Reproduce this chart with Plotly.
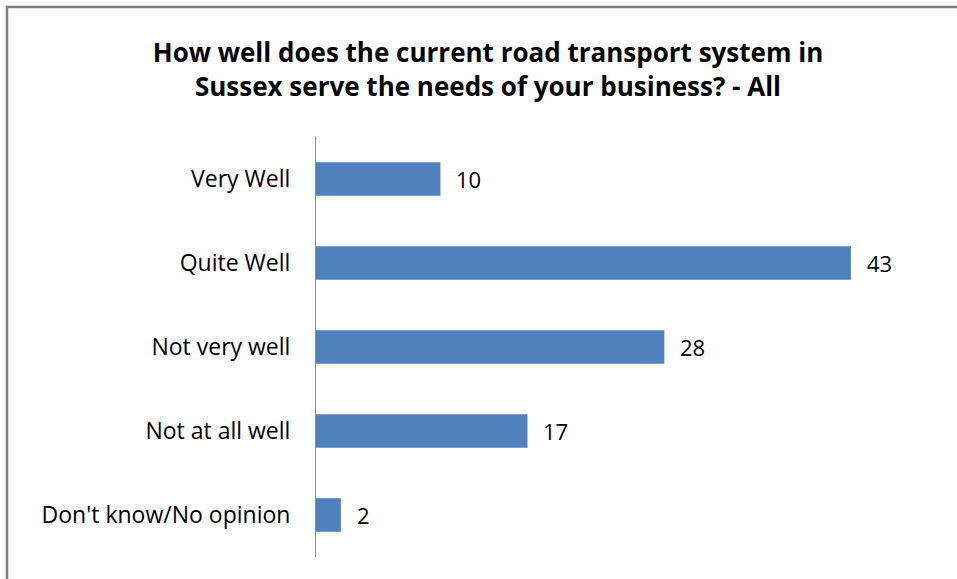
import plotly.graph_objects as go

# Survey responses (percent of all respondents)
categories = ["Very Well", "Quite Well", "Not very well", "Not at all well", "Don't know/No opinion"]
values = [10, 43, 28, 17, 2]

W, H = 957, 579
L, R, T, B = 316, 19, 137, 22
pw = W - L - R
ph = H - T - B

fig = go.Figure(
    go.Bar(
        x=values,
        y=categories,
        orientation="h",
        marker=dict(color="#4f81bd", line=dict(width=0)),
        hoverinfo="x+y",
    )
)

# Value labels just right of each bar end
for cat, v in zip(categories, values):
    fig.add_annotation(
        x=v,
        y=cat,
        xref="x",
        yref="y",
        text=str(v),
        showarrow=False,
        xanchor="left",
        yanchor="middle",
        xshift=14,
        font=dict(family="Open Sans", size=22, color="#000000"),
    )

fig.update_layout(
    width=W,
    height=H,
    margin=dict(l=L, r=R, t=T, b=B),
    plot_bgcolor="white",
    paper_bgcolor="white",
    bargap=0.6,
    showlegend=False,
    title=dict(
        text="<b>How well does the current road transport system in<br>Sussex serve the needs of your business? - All</b>",
        x=488 / W,
        xanchor="center",
        y=1 - 62 / H,
        yanchor="middle",
        font=dict(family="Open Sans", size=26, color="#000000"),
    ),
    xaxis=dict(
        range=[0, 50],
        visible=False,
        showgrid=False,
        zeroline=False,
    ),
    yaxis=dict(
        autorange="reversed",
        showline=True,
        linecolor="#8c8c8c",
        linewidth=1,
        showgrid=False,
        zeroline=False,
        ticks="",
        ticklabelstandoff=20,
        tickfont=dict(family="Open Sans", size=23, color="#000000"),
    ),
)

# Outer chart frame (extends past the right and bottom edges of the page)
fig.add_shape(
    type="rect",
    xref="paper",
    yref="paper",
    x0=(7 - L) / pw,
    x1=(W + 10 - L) / pw,
    y0=-(B + 10) / ph,
    y1=1 + (T - 7) / ph,
    line=dict(color="#808080", width=2.5),
    fillcolor="rgba(0,0,0,0)",
    layer="below",
)

fig.write_html("out.html")
